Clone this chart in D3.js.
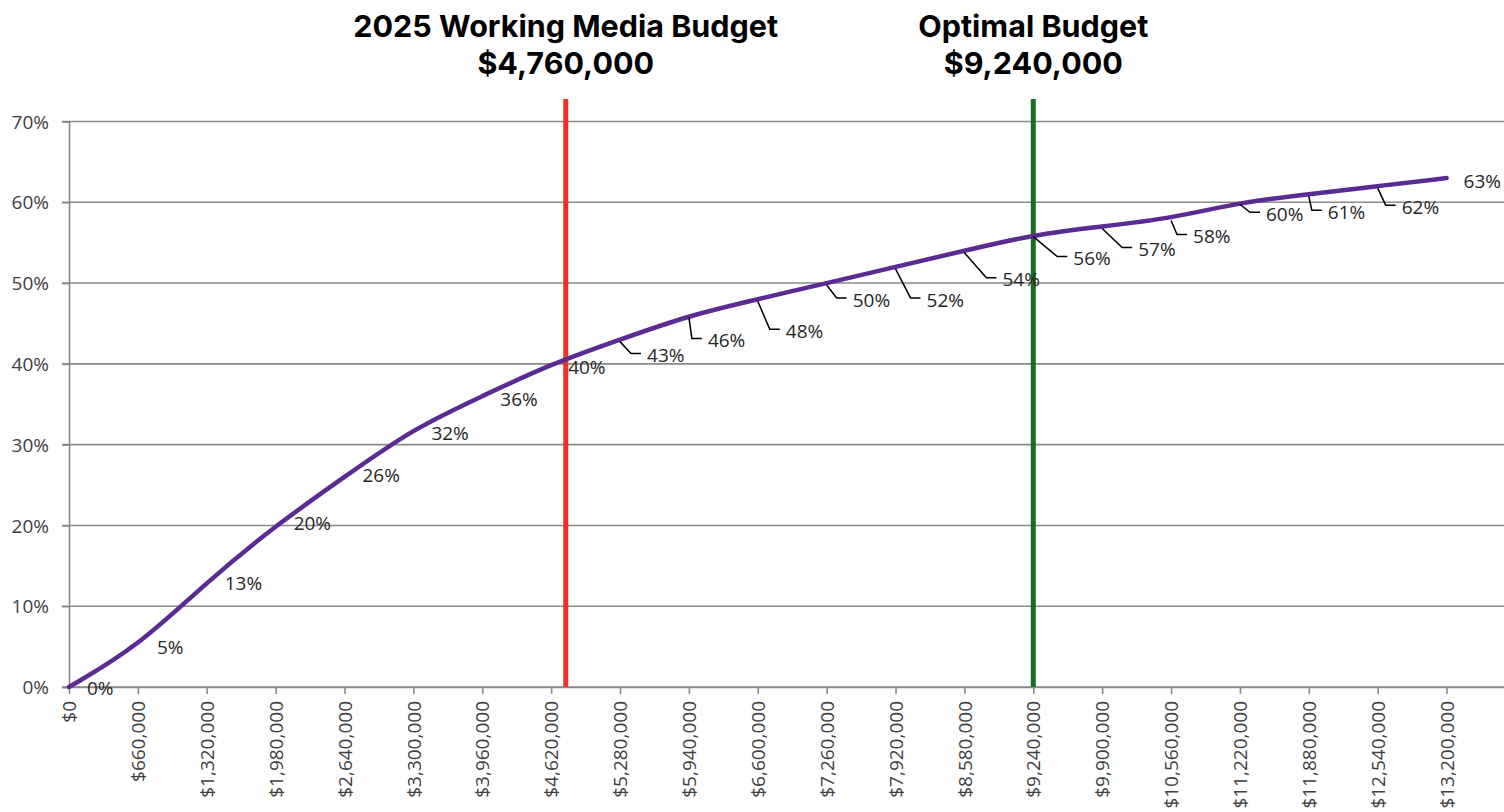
<!DOCTYPE html>
<html>
<head>
<meta charset="utf-8">
<script src="https://cdn.jsdelivr.net/npm/d3@7/dist/d3.min.js"></script>
<style>
  html, body { margin: 0; padding: 0; background: #ffffff; }
  svg { display: block; }
  .tick-label { font-family: "Open Sans", sans-serif; font-size: 19px; fill: #404040; }
  .data-label { font-family: "Open Sans", sans-serif; font-size: 19px; fill: #262626; }
  .title { font-family: Inter, Roboto, sans-serif; font-weight: 700; fill: #000; }
</style>
</head>
<body>
<svg id="chart" width="1504" height="812"></svg>
<script>
// Spend levels on the x axis (dollars)
const budgetLevels = [0, 660000, 1320000, 1980000, 2640000, 3300000, 3960000, 4620000,
  5280000, 5940000, 6600000, 7260000, 7920000, 8580000, 9240000, 9900000,
  10560000, 11220000, 11880000, 12540000, 13200000];

// Response (%) at each spend level
const responsePct = [0, 5, 13, 20, 26, 32, 36, 40, 43, 46, 48, 50, 52, 54, 56, 57, 58, 60, 61, 62, 63];

// Y axis ticks (%)
const yTicks = [0, 10, 20, 30, 40, 50, 60, 70];

// Reference budgets
const markerNames = ["2025 Working Media Budget", "Optimal Budget"];
const markerValues = [4760000, 9240000];

// Layout: offset of each data label (left edge, vertical centre) from its point,
// and whether a leader line is drawn.
const labelDx = [18, 19, 18, 18, 18, 18, 18, 17, 27, 19, 28, 26, 31, 38, 40, 36, 22, 26, 19, 24, 17];
const labelDy = [1, 1, 1, -2, -2, 5, 3, 3, 16, 25, 32, 17, 33, 29, 24, 23, 18, 12, 18, 21, 3];
const hasLeader = [0, 0, 0, 0, 0, 0, 0, 0, 1, 1, 1, 1, 1, 1, 1, 1, 1, 1, 1, 1, 0];

const markerColors = ["#ee3124", "#1b6b26"];

const svg = d3.select("#chart");
const plotLeft = 69, plotRight = 1505, plotTop = 121.5, plotBottom = 687;

const x = d3.scaleLinear().domain([0, 13760000]).range([plotLeft, plotRight]);
const y = d3.scaleLinear().domain([0, 70]).range([plotBottom, plotTop]);

const fmtMoney = v => "$" + d3.format(",")(v);

// Horizontal gridlines
svg.append("g")
  .selectAll("line")
  .data(yTicks)
  .join("line")
  .attr("x1", plotLeft - 7).attr("x2", plotRight)
  .attr("y1", d => y(d)).attr("y2", d => y(d))
  .attr("stroke", "#8a8a8a").attr("stroke-width", 1.6);

// Y axis
const yAxis = svg.append("g")
  .attr("transform", `translate(${plotLeft},0)`)
  .call(d3.axisLeft(y).tickValues(yTicks).tickFormat(d => d + "%").tickSize(7).tickPadding(13));
yAxis.select(".domain").attr("stroke", "#8a8a8a").attr("stroke-width", 1.6);
yAxis.selectAll(".tick line").attr("stroke", "#8a8a8a").attr("stroke-width", 1.6);
yAxis.selectAll(".tick text").attr("class", "tick-label").attr("dy", "0.35em");

// X axis
const xAxis = svg.append("g")
  .attr("transform", `translate(0,${plotBottom})`)
  .call(d3.axisBottom(x).tickValues(budgetLevels).tickFormat(fmtMoney).tickSize(7).tickSizeOuter(0));
xAxis.select(".domain").attr("stroke", "#8a8a8a").attr("stroke-width", 1.6);
xAxis.selectAll(".tick line").attr("stroke", "#8a8a8a").attr("stroke-width", 1.6);
xAxis.selectAll(".tick text")
  .attr("class", "tick-label")
  .attr("text-anchor", "end")
  .attr("transform", "rotate(-90)")
  .attr("x", -14).attr("y", 0).attr("dy", "0.35em");

// Reference budget lines
svg.append("g")
  .selectAll("line")
  .data(markerValues)
  .join("line")
  .attr("x1", d => x(d)).attr("x2", d => x(d))
  .attr("y1", 99).attr("y2", plotBottom)
  .attr("stroke", (d, i) => markerColors[i]).attr("stroke-width", 5);

// Response curve (smoothed through the rounded points)
const pts = budgetLevels.map((b, i) => [x(b), y(responsePct[i])]);
svg.append("path")
  .attr("d", d3.line().curve(d3.curveBasis)(pts))
  .attr("fill", "none")
  .attr("stroke", "#5b2a92")
  .attr("stroke-width", 4.5)
  .attr("stroke-linecap", "round");

// Leader lines
svg.append("g")
  .selectAll("polyline")
  .data(pts.map((p, i) => ({ p, i })).filter(d => hasLeader[d.i]))
  .join("polyline")
  .attr("points", d => {
    const lx = d.p[0] + labelDx[d.i], ly = d.p[1] + labelDy[d.i] - 2;
    return [[d.p[0], d.p[1] + 2], [lx - 16, ly], [lx - 6, ly]].map(q => q.join(",")).join(" ");
  })
  .attr("fill", "none").attr("stroke", "#000").attr("stroke-width", 1.5);

// Data labels
svg.append("g")
  .selectAll("text")
  .data(pts)
  .join("text")
  .attr("class", "data-label")
  .attr("x", (p, i) => p[0] + labelDx[i])
  .attr("y", (p, i) => p[1] + labelDy[i])
  .attr("dy", "0.35em")
  .text((p, i) => responsePct[i] + "%");

// Titles above the reference lines
markerValues.forEach((v, i) => {
  const g = svg.append("g");
  g.append("text").attr("class", "title")
    .attr("x", x(v)).attr("y", 37).attr("text-anchor", "middle")
    .attr("font-size", 30.5).text(markerNames[i]);
  g.append("text").attr("class", "title")
    .attr("x", x(v)).attr("y", 74).attr("text-anchor", "middle")
    .attr("font-size", 30.5).text(fmtMoney(v));
});
</script>
</body>
</html>
